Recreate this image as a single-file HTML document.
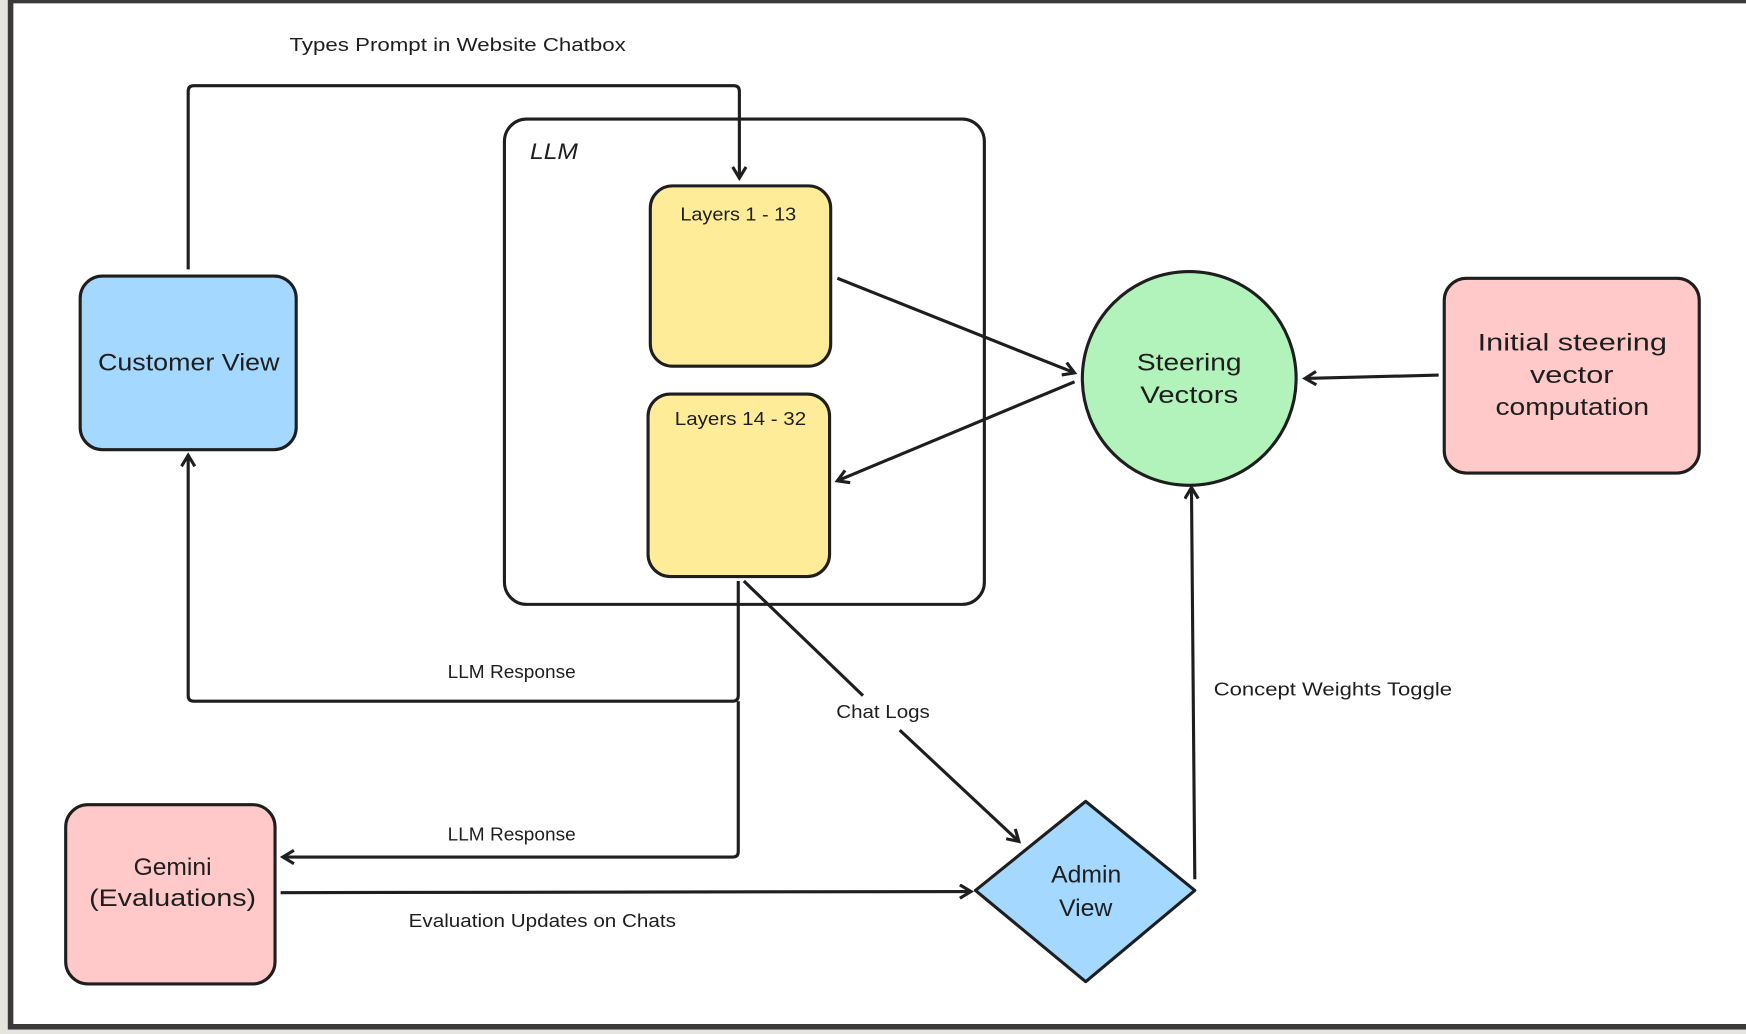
<!DOCTYPE html>
<html><head><style>html,body{margin:0;padding:0;background:#e6e4df;}svg{display:block}</style></head><body>
<svg width="1746" height="1034" viewBox="0 0 1568 929" preserveAspectRatio="none" xmlns="http://www.w3.org/2000/svg" font-family="Liberation Sans, sans-serif" fill="#1e1e1e">
<defs><marker id="a" markerWidth="14" markerHeight="14" refX="11" refY="7" orient="auto" markerUnits="userSpaceOnUse"><path d="M1,1 L11,7 L1,13" fill="none" stroke="#1e1e1e" stroke-width="2.8"/></marker></defs>
<rect x="0" y="0" width="1568" height="929" fill="#e6e4df"/>
<rect x="7" y="0" width="1561" height="925" fill="#3a3a3a"/>
<rect x="12" y="3" width="1556" height="917" fill="#ffffff"/>
<g stroke="#1e1e1e" stroke-width="2.8" fill="none">
<rect x="453" y="107" width="431" height="436" rx="20"/>
<rect x="72" y="248" width="194" height="156" rx="20" fill="#a5d8ff"/>
<rect x="584" y="167" width="162" height="162" rx="20" fill="#ffec99"/>
<rect x="582" y="354" width="163" height="164" rx="20" fill="#ffec99"/>
<circle cx="1068" cy="340" r="96" fill="#b2f2bb"/>
<rect x="1297" y="250" width="229" height="175" rx="20" fill="#ffc9c9"/>
<rect x="59" y="723" width="188" height="161" rx="20" fill="#ffc9c9"/>
<path d="M975,720 L1073,800 L975,882 L876,800 Z" fill="#a5d8ff" stroke-linejoin="round"/>
<path d="M169,242 L169,82 Q169,77 174,77 L659,77 Q664,77 664,82 L664,160" marker-end="url(#a)"/>
<path d="M752,250 L965,335" marker-end="url(#a)"/>
<path d="M965,343 L752,432" marker-end="url(#a)"/>
<path d="M1292,337 L1172,340" marker-end="url(#a)"/>
<path d="M663,522 L663,625 Q663,630 658,630 L174,630 Q169,630 169,625 L169,409" marker-end="url(#a)"/>
<path d="M663,630 L663,765 Q663,770 658,770 L254,770" marker-end="url(#a)"/>
<path d="M252,802 L872,801" marker-end="url(#a)"/>
<path d="M668,522 L775,625 M808,656 L915,756" marker-end="url(#a)"/>
<path d="M1073,790 L1070,438" marker-end="url(#a)"/>
</g>
<g font-size="17" lengthAdjust="spacingAndGlyphs">
<text x="260" y="46" textLength="302" lengthAdjust="spacingAndGlyphs">Types Prompt in Website Chatbox</text>
<text x="402" y="609" textLength="115" lengthAdjust="spacingAndGlyphs">LLM Response</text>
<text x="402" y="755" textLength="115" lengthAdjust="spacingAndGlyphs">LLM Response</text>
<text x="751" y="645" textLength="84" lengthAdjust="spacingAndGlyphs">Chat Logs</text>
<text x="1090" y="625" textLength="214" lengthAdjust="spacingAndGlyphs">Concept Weights Toggle</text>
<text x="367" y="833" textLength="240" lengthAdjust="spacingAndGlyphs">Evaluation Updates on Chats</text>
<text x="611" y="198" textLength="104" lengthAdjust="spacingAndGlyphs">Layers 1 - 13</text>
<text x="606" y="382" textLength="118" lengthAdjust="spacingAndGlyphs">Layers 14 - 32</text>
</g>
<g font-size="22">
<text x="476" y="143" font-style="italic" font-size="20" textLength="43" lengthAdjust="spacingAndGlyphs">LLM</text>
<text x="88" y="333" textLength="163" lengthAdjust="spacingAndGlyphs">Customer View</text>
<text x="1021" y="333" textLength="94" lengthAdjust="spacingAndGlyphs">Steering</text>
<text x="1024" y="362" textLength="88" lengthAdjust="spacingAndGlyphs">Vectors</text>
<text x="1327" y="315" textLength="170" lengthAdjust="spacingAndGlyphs">Initial steering</text>
<text x="1374" y="344" textLength="75" lengthAdjust="spacingAndGlyphs">vector</text>
<text x="1343" y="373" textLength="138" lengthAdjust="spacingAndGlyphs">computation</text>
<text x="120" y="786" textLength="70" lengthAdjust="spacingAndGlyphs">Gemini</text>
<text x="80" y="814" textLength="150" lengthAdjust="spacingAndGlyphs">(Evaluations)</text>
<text x="944" y="793" textLength="63" lengthAdjust="spacingAndGlyphs">Admin</text>
<text x="951" y="823" textLength="48" lengthAdjust="spacingAndGlyphs">View</text>
</g>
</svg>
</body></html>
